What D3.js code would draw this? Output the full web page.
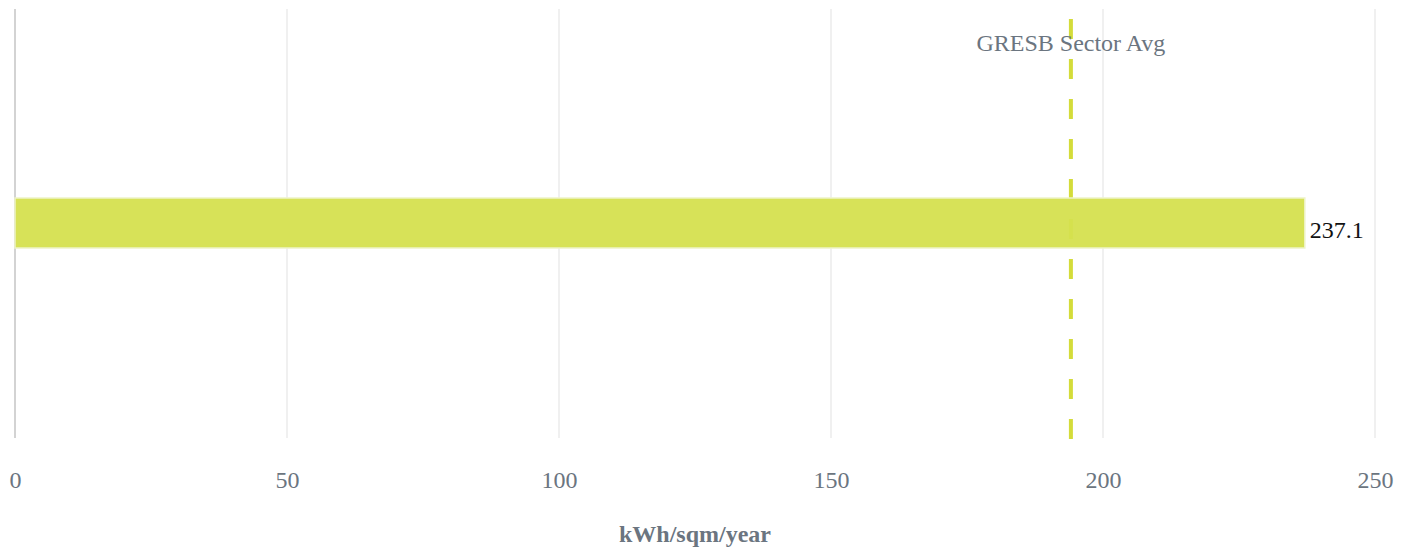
<!DOCTYPE html>
<html><head><meta charset="utf-8">
<script src="https://cdn.jsdelivr.net/npm/d3@7"></script>
<style>body{margin:0;background:#fff}svg{display:block}</style>
</head><body><svg id="c" width="1408" height="548"></svg>
<script>
const categories = ["Portfolio"];
const values = [237.1];
const benchmarkValue = [194.1];
const benchmarkLabel = ["GRESB Sector Avg"];
const tickValues = [0, 50, 100, 150, 200, 250];
const axisTitle = "kWh/sqm/year";

const svg = d3.select("#c");
const x = d3.scaleLinear().domain([0, 250]).range([15, 1375]);
const y = d3.scaleBand().domain(categories).range([8, 438]).paddingInner(0).paddingOuter(3.8);
const font = "'Liberation Serif', 'Times New Roman', serif";

// grid
svg.append("g").selectAll("line").data(tickValues.slice(1)).join("line")
  .attr("x1", d => x(d)).attr("x2", d => x(d)).attr("y1", 9).attr("y2", 438)
  .attr("stroke", "#f0f0f0").attr("stroke-width", 2);
// axis line
svg.append("line").attr("x1", x(0)).attr("x2", x(0)).attr("y1", 9).attr("y2", 438)
  .attr("stroke", "#d3d3d3").attr("stroke-width", 2);

// benchmark line
svg.append("line").attr("x1", x(benchmarkValue[0])).attr("x2", x(benchmarkValue[0]))
  .attr("y1", 19).attr("y2", 439)
  .attr("stroke", "#d4dc3a").attr("stroke-width", 4).attr("stroke-dasharray", "20,20");

// bar
svg.append("g").selectAll("rect").data(values).join("rect")
  .attr("x", x(0)).attr("y", (d, i) => y(categories[i]))
  .attr("width", d => x(d) - x(0)).attr("height", y.bandwidth())
  .attr("fill", "#d5e04f").attr("fill-opacity", 0.95)
  .attr("stroke", "#eef3c8").attr("stroke-width", 1.5);

// value label
svg.append("g").selectAll("text").data(values).join("text")
  .attr("x", d => x(d) + 5).attr("y", (d, i) => y(categories[i]) + y.bandwidth() / 2 + 7)
  .attr("dy", "0.35em").attr("font-family", font).attr("font-size", 24).attr("fill", "#111")
  .text(d => d.toFixed(1));

// benchmark label
svg.append("text").attr("x", x(benchmarkValue[0])).attr("y", 51).attr("text-anchor", "middle")
  .attr("font-family", font).attr("font-size", 24).attr("fill", "#6b7580").text(benchmarkLabel[0]);

// x axis ticks
const ax = svg.append("g").attr("transform", "translate(0,471)")
  .call(d3.axisBottom(x).tickValues(tickValues).tickSize(0).tickPadding(0).tickFormat(d3.format("d")));
ax.select(".domain").remove();
ax.selectAll("text").attr("font-family", font).attr("font-size", 24).attr("fill", "#6b7580").attr("dy", "0.71em");

// axis title
svg.append("text").attr("x", (x(0) + x(250)) / 2).attr("y", 542).attr("text-anchor", "middle")
  .attr("font-family", font).attr("font-size", 24).attr("font-weight", "bold").attr("fill", "#6b7580")
  .text(axisTitle);
</script></body></html>
